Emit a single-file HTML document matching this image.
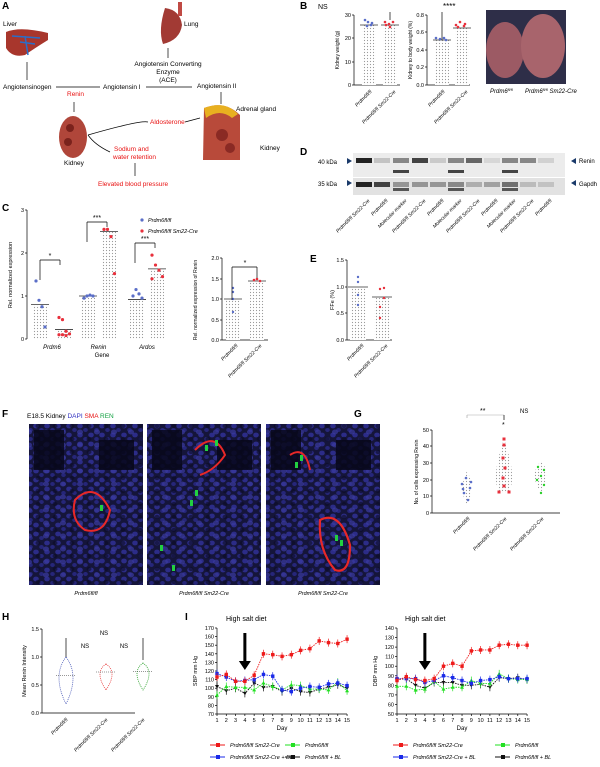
<!DOCTYPE html>
<html><head><meta charset="utf-8"><style>
body{margin:0;background:#fff;}
svg{display:block;font-family:"Liberation Sans",sans-serif;}
</style></head><body>
<svg id="s" width="600" height="767" viewBox="0 0 600 767" xmlns="http://www.w3.org/2000/svg">
<defs>
<pattern id="dots" width="3" height="3" patternUnits="userSpaceOnUse"><rect width="3" height="3" fill="#fff"/><circle cx="1.5" cy="1.5" r="0.6" fill="#999"/></pattern>
<pattern id="nuc" width="11" height="9" patternUnits="userSpaceOnUse"><rect width="11" height="9" fill="#15153a"/><ellipse cx="3" cy="3" rx="2.8" ry="2.4" fill="#2c2c88"/><ellipse cx="8.5" cy="7" rx="2.3" ry="2" fill="#26267a"/></pattern>
<pattern id="nuc2" width="17" height="13" patternUnits="userSpaceOnUse"><rect width="17" height="13" fill="none"/><ellipse cx="12" cy="3" rx="3" ry="2.5" fill="#3a3aa0" fill-opacity="0.7"/><ellipse cx="4" cy="10" rx="2.5" ry="2.2" fill="#0c0c24" fill-opacity="0.6"/></pattern>
</defs>
<g font-size="6.5" fill="#000">
<text x="2" y="9" font-size="10" font-weight="bold">A</text>
<text x="3" y="26">Liver</text>
<path d="M6 32 Q20 26 48 33 L48 40 Q35 48 25 55 Q12 58 6 48Z" fill="#a8362c"/>
<path d="M12 36 L40 38 M25 36 L28 55 M20 42 L35 44" stroke="#2a6ec8" stroke-width="1.5" fill="none"/>
<line x1="27" y1="62" x2="27" y2="80" stroke="#000" stroke-width="0.7"/>
<text x="3" y="89">Angiotensinogen</text>
<line x1="56" y1="87" x2="100" y2="87" stroke="#000" stroke-width="0.7"/>
<text x="103" y="89">Angiotensin I</text>
<line x1="146" y1="87" x2="192" y2="87" stroke="#000" stroke-width="0.7"/>
<text x="197" y="88">Angiotensin II</text>
<text x="67" y="96" fill="#e81010">Renin</text>
<line x1="74" y1="102" x2="74" y2="112" stroke="#000" stroke-width="0.7"/>
<path d="M165 8 Q180 10 182 25 Q180 40 163 44 Q158 30 165 8Z" fill="#a23a34"/>
<rect x="178" y="2" width="4" height="14" fill="#c04a44"/>
<text x="184" y="26">Lung</text>
<line x1="168" y1="48" x2="168" y2="58" stroke="#000" stroke-width="0.7"/>
<text x="168" y="66" text-anchor="middle">Angiotensin Converting</text>
<text x="168" y="74" text-anchor="middle">Enzyme</text>
<text x="168" y="82" text-anchor="middle">(ACE)</text>
<line x1="221" y1="92" x2="221" y2="104" stroke="#000" stroke-width="0.7"/>
<text x="236" y="111">Adrenal gland</text>
<path d="M204 108 Q225 100 240 115 L240 160 L203 160Z" fill="#b84a3a"/>
<path d="M204 108 Q225 100 238 114 L232 118 Q220 108 206 118Z" fill="#e8b020"/>
<circle cx="222" cy="135" r="6" fill="#8a2a24"/><circle cx="230" cy="148" r="5" fill="#8a2a24"/>
<text x="260" y="150">Kidney</text>
<text x="150" y="124" fill="#e81010">Aldosterone</text>
<path d="M88 135 Q140 120 148 122 M185 122 L200 118" stroke="#000" stroke-width="0.7" fill="none"/>
<path d="M88 135 Q95 145 110 152" stroke="#000" stroke-width="0.7" fill="none"/>
<ellipse cx="73" cy="137" rx="14" ry="21" fill="#b0463a"/>
<circle cx="70" cy="128" r="4" fill="#7a221c"/><circle cx="68" cy="142" r="4" fill="#7a221c"/>
<text x="64" y="165">Kidney</text>
<text x="114" y="151" fill="#e81010">Sodium and</text>
<text x="113" y="159" fill="#e81010">water retention</text>
<line x1="135" y1="163" x2="135" y2="176" stroke="#000" stroke-width="0.7"/>
<text x="98" y="186" fill="#e81010">Elevated blood pressure</text>
</g>
<g font-size="6">
<text x="300" y="9" font-size="10" font-weight="bold">B</text>
<rect x="486" y="10" width="80" height="74" fill="#2e2e48"/>
<ellipse cx="505" cy="50" rx="19" ry="28" fill="#9c5a64"/>
<ellipse cx="543" cy="46" rx="22" ry="32" fill="#a8646c"/>
<text x="490" y="93" font-style="italic">Prdm6<tspan font-size="4" dy="-2">fl/fl</tspan></text>
<text x="525" y="93" font-style="italic">Prdm6<tspan font-size="4" dy="-2">fl/fl</tspan><tspan dy="2"> Sm22-Cre</tspan></text>
<text x="318" y="9" font-size="7">NS</text>
<text x="443" y="9" font-size="8">****</text>
</g>
<g font-size="6">
<text x="300" y="155" font-size="10" font-weight="bold">D</text>
<rect x="353" y="153" width="212" height="24" fill="#ececec"/>
<rect x="353" y="178" width="212" height="17" fill="#e2e2e2"/>
<text x="318" y="164">40 kDa</text><text x="318" y="186">35 kDa</text>
<path d="M347 158 l5 3 l-5 3z M347 180 l5 3 l-5 3z M576 158 l-5 3 l5 3z M576 180 l-5 3 l5 3z" fill="#1a3a6a"/>
<text x="579" y="163">Renin</text><text x="579" y="186">Gapdh</text>
</g>
<g font-size="6.5">
<text x="2" y="211" font-size="10" font-weight="bold">C</text>
<text x="310" y="262" font-size="10" font-weight="bold">E</text>
<text x="2" y="417" font-size="10" font-weight="bold">F</text>
<text x="27" y="418">E18.5 Kidney <tspan fill="#3030c0">DAPI</tspan>  <tspan fill="#e81010">SMA</tspan>  <tspan fill="#10a040">REN</tspan></text>
<text x="354" y="417" font-size="10" font-weight="bold">G</text>
<text x="2" y="620" font-size="10" font-weight="bold">H</text>
<text x="185" y="620" font-size="10" font-weight="bold">I</text>
<text x="226" y="621" font-size="7">High salt diet</text>
<text x="405" y="621" font-size="7">High salt diet</text>
</g>
<g id="g"></g>
</svg>
<script>
(function(){
const NS="http://www.w3.org/2000/svg";const G=document.getElementById('g');
function el(t,a,txt){const e=document.createElementNS(NS,t);for(const k in a)e.setAttribute(k,a[k]);if(txt!==undefined)e.textContent=txt;G.appendChild(e);return e;}
function line(x1,y1,x2,y2,c,w,d){el('line',{x1,y1,x2,y2,stroke:c||'#000','stroke-width':w||0.7,'stroke-dasharray':d||'none'});}
function txt(x,y,s,o){const a=Object.assign({x,y,'font-size':5.5},o||{});el('text',a,s);}
function rtxt(x,y,s,fs){el('text',{x,y,'font-size':fs||5,'font-style':'italic',transform:`rotate(-45 ${x} ${y})`,'text-anchor':'end'},s);}
function axis(x,y0,y1,ticks){line(x,y0,x,y1);ticks.forEach(t=>{line(x-2,t[0],x,t[0]);txt(x-3,t[0]+2,t[1],{'text-anchor':'end'});});}
function bar(x,w,tp,bot){el('rect',{x,y:tp,width:w,height:bot-tp,fill:'url(#dots)'});line(x-2,tp,x+w+2,tp,'#333',0.8);}
function dot(x,y,c,r){el('circle',{cx:x,cy:y,r:r||1.6,fill:c});}
const B='#5a6ec8',R='#e8303c',Gr='#2ad02a';
axis(354,15,85,[[15,'30'],[38,'20'],[62,'10'],[85,'0']]);line(354,85,400,85);
bar(362,14,25,85);bar(383,14,25,85);
[[365,20],[368,22],[371,25],[367,26],[372,23]].forEach(p=>dot(p[0],p[1],B,1.3));
[[385,22],[389,24],[393,22],[390,27],[386,25]].forEach(p=>dot(p[0],p[1],R,1.3));
line(390,12,390,20);
el('text',{x:339,y:50,'font-size':5,transform:'rotate(-90 339 50)','text-anchor':'middle'},'Kidney weight (g)');
rtxt(372,92,'Prdm6fl/fl');rtxt(396,92,'Prdm6fl/fl Sm22-Cre');
axis(427,15,85,[[15,'0.8'],[32,'0.6'],[50,'0.4'],[67,'0.2'],[85,'0.0']]);line(427,85,470,85);
bar(435,14,40,85);bar(455,14,28,85);line(442,12,442,40);
[[436,38],[440,39],[444,38],[446,40]].forEach(p=>dot(p[0],p[1],B,1.3));
[[456,25],[460,22],[464,26],[458,27],[465,24]].forEach(p=>dot(p[0],p[1],R,1.3));
el('text',{x:412,y:50,'font-size':5,transform:'rotate(-90 412 50)','text-anchor':'middle'},'Kidney to body weight (%)');
rtxt(445,92,'Prdm6fl/fl');rtxt(468,92,'Prdm6fl/fl Sm22-Cre');
const lanes=[364,382,401,420,438,456,474,492,510,528,546];
const topB=[3,0.6,1.5,2.5,0.5,1.5,2,0.3,1.5,1.5,0.4];
lanes.forEach((x,i)=>{el('rect',{x:x-8,y:158,width:16,height:5,fill:'#222','fill-opacity':Math.min(1,topB[i]/3)});});
[401,456,510].forEach(x=>{el('rect',{x:x-8,y:170,width:16,height:3,fill:'#444'});el('rect',{x:x-8,y:188,width:16,height:3,fill:'#555'});});
const gp=[3,2.5,1.2,1.2,1.2,1.4,0.8,1,1.8,0.6,0.5];
lanes.forEach((x,i)=>{el('rect',{x:x-8,y:182,width:16,height:5,fill:'#222','fill-opacity':Math.min(1,gp[i]/3)});});
const dl=['Prdm6fl/fl Sm22-Cre','Prdm6fl/fl','Molecular marker','Prdm6fl/fl Sm22-Cre','Prdm6fl/fl','Molecular marker','Prdm6fl/fl Sm22-Cre','Prdm6fl/fl','Molecular marker','Prdm6fl/fl Sm22-Cre','Prdm6fl/fl'];
lanes.forEach((x,i)=>rtxt(x+6,201,dl[i],5));
axis(27,210,339,[[210,'3'],[253,'2'],[296,'1'],[339,'0']]);
el('text',{x:12,y:275,'font-size':5.5,transform:'rotate(-90 12 275)','text-anchor':'middle'},'Rel. normalized expression');
const cg=[[33,57,'Prdm6',[0.8,0.22],[[1.35,0.9,0.75,0.28],[0.5,0.45,0.18,0.12,0.1,0.1,0.08]]],[81,102,'Renin',[1,2.5],[[0.95,1,1.02,1],[2.55,2.55,2.38,1.52]]],[130,150,'Ardos',[0.92,1.63],[[1,1.15,1.05,0.95],[1.95,1.72,1.6,1.45,1.4]]]];
const cy=v=>339-v*43;
cg.forEach(g=>{bar(g[0],14,cy(g[3][0]),339);bar(g[1],14,cy(g[3][1]),339);
 g[4][0].forEach((v,i)=>dot(g[0]+3+i*3,cy(v),B));g[4][1].forEach((v,i)=>dot(g[1]+2+(i%4)*3.5,cy(v),R));
 txt((g[0]+g[1]+14)/2,349,g[2],{'text-anchor':'middle','font-style':'italic','font-size':6});});
txt(102,357,'Gene',{'text-anchor':'middle','font-size':6});
[[40,60,260,'*'],[87,107,222,'***'],[135,155,243,'***']].forEach(s=>{line(s[0],s[2],s[1],s[2]);line(s[0],s[2],s[0],s[2]+20);line(s[1],s[2],s[1],s[2]+5);txt((s[0]+s[1])/2,s[2]-2,s[3],{'text-anchor':'middle','font-size':7});});
dot(142,220,B);txt(148,222,'Prdm6fl/fl',{'font-style':'italic'});dot(142,231,R);txt(148,233,'Prdm6fl/fl Sm22-Cre',{'font-style':'italic'});
axis(222,258,340,[[258,'2.0'],[279,'1.5'],[299,'1.0'],[320,'0.5'],[340,'0.0']]);line(222,340,268,340);
bar(226,14,299,340);bar(250,14,281,340);
[[233,288],[233,292],[233,299],[233,312]].forEach(p=>dot(p[0],p[1],B,1.2));[[254,280],[257,279],[260,281]].forEach(p=>dot(p[0],p[1],R,1.3));
line(232,267,257,267);line(232,267,232,300);line(257,267,257,278);txt(245,265,'*',{'font-size':7,'text-anchor':'middle'});
el('text',{x:197,y:300,'font-size':5,transform:'rotate(-90 197 300)','text-anchor':'middle'},'Rel. normalized expression of Renin');
rtxt(238,346,'Prdm6fl/fl');rtxt(262,346,'Prdm6fl/fl Sm22-Cre');
axis(347,260,340,[[260,'1.5'],[287,'1.0'],[313,'0.5'],[340,'0.0']]);line(347,340,392,340);
bar(350,16,287,340);bar(374,16,297,340);
[[358,277],[358,282],[358,295],[358,305]].forEach(p=>dot(p[0],p[1],B,1.2));[[380,289],[384,288],[380,307],[380,318],[384,298]].forEach(p=>dot(p[0],p[1],R,1.2));
el('text',{x:334,y:300,'font-size':5.5,transform:'rotate(-90 334 300)','text-anchor':'middle'},'FFe (%)');
rtxt(364,346,'Prdm6fl/fl');rtxt(388,346,'Prdm6fl/fl Sm22-Cre');
[[29,114],[147,114],[266,114]].forEach((p,k)=>{el('rect',{x:p[0],y:424,width:p[1],height:161,fill:'url(#nuc)'});el('rect',{x:p[0],y:424,width:p[1],height:161,fill:'url(#nuc2)'});
 el('rect',{x:p[0]+5,y:430,width:30,height:40,fill:'#07071a','fill-opacity':0.85});el('rect',{x:p[0]+70,y:440,width:35,height:30,fill:'#07071a','fill-opacity':0.85});});
el('path',{d:'M75 500 Q95 480 110 510 Q105 535 85 530 Q70 520 75 500Z',fill:'none',stroke:'#e82828','stroke-width':2});
el('path',{d:'M195 450 Q215 430 225 455 Q215 470 200 475',fill:'none',stroke:'#e82828','stroke-width':2});
el('path',{d:'M320 520 Q340 510 350 545 Q350 575 335 570 Q318 550 320 520Z',fill:'none',stroke:'#e82828','stroke-width':2.2});
el('path',{d:'M290 455 Q305 445 310 470',fill:'none',stroke:'#e82828','stroke-width':2});
[[205,445],[215,440],[195,490],[190,500],[300,455],[295,462],[335,535],[340,540],[160,545],[172,565],[100,505]].forEach(p=>el('rect',{x:p[0],y:p[1],width:3,height:6,fill:'#22d040'}));
txt(86,595,'Prdm6fl/fl',{'text-anchor':'middle','font-style':'italic'});txt(204,595,'Prdm6fl/fl Sm22-Cre',{'text-anchor':'middle','font-style':'italic'});txt(323,595,'Prdm6fl/fl Sm22-Cre',{'text-anchor':'middle','font-style':'italic'});
axis(432,430,513,[[430,'50'],[446,'40'],[463,'30'],[480,'20'],[496,'10'],[513,'0']]);line(432,513,560,513);
el('text',{x:418,y:472,'font-size':5,transform:'rotate(-90 418 472)','text-anchor':'middle'},'No. of cells expressing Renin');
el('path',{d:'M467 471 Q458 488 467 505 Q476 488 467 471Z',fill:'url(#dots)'});
el('path',{d:'M504 439 Q490 480 500 493 L508 493 Q518 480 504 439Z',fill:'url(#dots)'});
el('path',{d:'M541 461 Q528 475 541 492 Q553 475 541 461Z',fill:'url(#dots)'});
[[462,484],[466,478],[470,488],[464,493],[468,500],[463,489],[471,482]].forEach(p=>dot(p[0],p[1],B,1.3));
[[504,439],[504,445],[503,458],[505,468],[503,478],[504,486],[499,492],[509,492]].forEach(p=>el('rect',{x:p[0]-1.5,y:p[1]-1.5,width:3,height:3,fill:R}));
[[538,467],[544,470],[541,476],[537,480],[544,485],[541,493]].forEach(p=>dot(p[0],p[1],Gr,1.2));
line(467,415,504,415,'#aaa',0.6);line(467,415,467,418,'#aaa');line(504,415,504,420);
txt(480,413,'**',{'font-size':7});txt(520,413,'NS',{'font-size':6});txt(502,427,'*',{'font-size':7});
rtxt(470,519,'Prdm6fl/fl');rtxt(507,519,'Prdm6fl/fl Sm22-Cre');rtxt(544,519,'Prdm6fl/fl Sm22-Cre');
axis(42,629,713,[[629,'1.5'],[657,'1.0'],[685,'0.5'],[713,'0.0']]);line(42,713,135,713);
el('text',{x:26,y:671,'font-size':5.5,transform:'rotate(-90 26 671)','text-anchor':'middle'},'Mean Renin Intensity');
[[66,'#4a5ab8',657,704,14],[106,'#e83838',664,690,12],[143,'#2aa02a',663,690,12]].forEach(v=>{
 el('path',{d:`M${v[0]} ${v[2]} Q${v[0]-v[4]} ${(v[2]+v[3])/2-5} ${v[0]} ${v[3]} Q${v[0]+v[4]} ${(v[2]+v[3])/2-5} ${v[0]} ${v[2]}Z`,fill:'none',stroke:v[1],'stroke-width':0.8,'stroke-dasharray':'1,1'});line(v[0]-10,(v[2]+v[3])/2-5,v[0]+10,(v[2]+v[3])/2-5,'#333',0.6,'1,1');});
line(66,638,66,657);line(143,638,143,660);
txt(104,635,'NS',{'font-size':6,'text-anchor':'middle'});txt(85,648,'NS',{'font-size':6,'text-anchor':'middle'});txt(124,648,'NS',{'font-size':6,'text-anchor':'middle'});
rtxt(68,720,'Prdm6fl/fl');rtxt(108,720,'Prdm6fl/fl Sm22-Cre');rtxt(145,720,'Prdm6fl/fl Sm22-Cre');
function ichart(x0,ymax,ymin,step,lab,data){const y0=628,y1=714,sx=9.29,sy=(y1-y0)/(ymax-ymin);
 const ticks=[];for(let v=ymax;v>=ymin;v-=step)ticks.push([y1-(v-ymin)*sy,String(v)]);axis(x0,y0,y1,ticks);line(x0,y1,x0+130,y1);
 for(let d=1;d<=15;d++){line(x0+(d-1)*sx,y1,x0+(d-1)*sx,y1+2);txt(x0+(d-1)*sx,y1+8,String(d),{'text-anchor':'middle','font-size':5.5});}
 txt(x0+65,y1+16,'Day',{'text-anchor':'middle','font-size':6});
 el('text',{x:x0-20,y:671,'font-size':5.5,transform:`rotate(-90 ${x0-20} 671)`,'text-anchor':'middle'},lab);
 const ax=x0+3*sx;el('rect',{x:ax-1.5,y:y0+5,width:3,height:30,fill:'#000'});el('path',{d:`M${ax-6} ${y0+33} L${ax+6} ${y0+33} L${ax} ${y0+42}Z`,fill:'#000'});
 data.forEach(s=>{const pts=s[1].map((v,i)=>[x0+i*sx,y1-(v-ymin)*sy]);
  el('polyline',{points:pts.map(p=>p.join(',')).join(' '),fill:'none',stroke:s[0],'stroke-width':0.9,'stroke-dasharray':'1.5,1'});
  pts.forEach(p=>{line(p[0],p[1]-4,p[0],p[1]+4,s[0],0.7);if(s[2]=='t')el('path',{d:`M${p[0]-2} ${p[1]+1.5} L${p[0]+2} ${p[1]+1.5} L${p[0]} ${p[1]-2}Z`,fill:s[0]});else if(s[2]=='v')el('path',{d:`M${p[0]-2} ${p[1]-1.5} L${p[0]+2} ${p[1]-1.5} L${p[0]} ${p[1]+2}Z`,fill:s[0]});else el('rect',{x:p[0]-1.7,y:p[1]-1.7,width:3.4,height:3.4,fill:s[0]});});});}
ichart(217,170,70,10,'SBP mm Hg',[
 ['#111',[102,97,100,94,106,101,102,96,100,96,95,99,101,104,100],'v'],
 ['#22e022',[92,102,101,101,98,106,102,98,104,103,99,99,98,107,97],'t'],
 ['#1a2ae8',[117,113,108,109,110,116,114,98,96,100,102,101,105,106,103],'s'],
 ['#ee1a1a',[113,116,108,108,115,140,139,137,139,144,146,155,153,152,157],'s']]);
ichart(397,140,50,10,'DBP mm Hg',[
 ['#111',[86,87,80,77,83,83,83,80,80,81,78,88,87,88,86],'v'],
 ['#22e022',[79,79,75,76,84,76,78,78,85,82,82,92,87,86,86],'t'],
 ['#1a2ae8',[87,87,87,83,85,90,88,85,82,85,86,89,87,87,87],'s'],
 ['#ee1a1a',[85,89,86,85,87,100,103,100,116,117,117,122,123,122,122],'s']]);
const L=[[210,747,'#ee1a1a','Prdm6fl/fl Sm22-Cre'],[285,747,'#22e022','Prdm6fl/fl'],[210,759,'#1a2ae8','Prdm6fl/fl Sm22-Cre + BL'],[285,759,'#111','Prdm6fl/fl + BL'],[393,747,'#ee1a1a','Prdm6fl/fl Sm22-Cre'],[495,747,'#22e022','Prdm6fl/fl'],[393,759,'#1a2ae8','Prdm6fl/fl Sm22-Cre + BL'],[495,759,'#111','Prdm6fl/fl + BL']];
L.forEach(l=>{line(l[0],l[1]-2,l[0]+15,l[1]-2,l[2],1);el('rect',{x:l[0]+6,y:l[1]-4,width:4,height:4,fill:l[2]});txt(l[0]+20,l[1],l[3],{'font-size':5.5,'font-style':'italic'});});
})();
</script>
</body></html>
